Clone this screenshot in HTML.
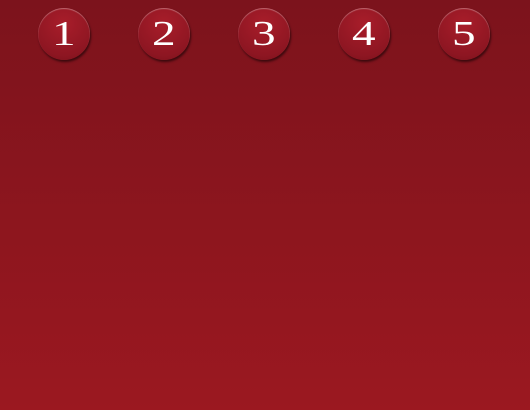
<!DOCTYPE html>
<html><head><meta charset="utf-8"><style>
html,body{margin:0;padding:0}
body{width:530px;height:410px;overflow:hidden;background:linear-gradient(#7c131c,#9b1820);position:relative;font-family:"Liberation Serif",serif}
.b{position:absolute;top:8px;width:52px;height:52px;border-radius:50%;background:radial-gradient(circle at 50% 30%,#a81d2a,#8e1622 70%,#7a111b);box-shadow:1px 2px 2px rgba(0,0,0,.55),inset 0 1px 1px rgba(255,255,255,.35);color:#fff;font-size:35px;line-height:52px;text-align:center;cursor:pointer}
.b span{display:inline-block;transform:scaleX(1.35)}
</style></head><body>
<div class="b" style="left:38px"><span>1</span></div>
<div class="b" style="left:138px"><span>2</span></div>
<div class="b" style="left:238px"><span>3</span></div>
<div class="b" style="left:338px"><span>4</span></div>
<div class="b" style="left:438px"><span>5</span></div>
</body></html>
